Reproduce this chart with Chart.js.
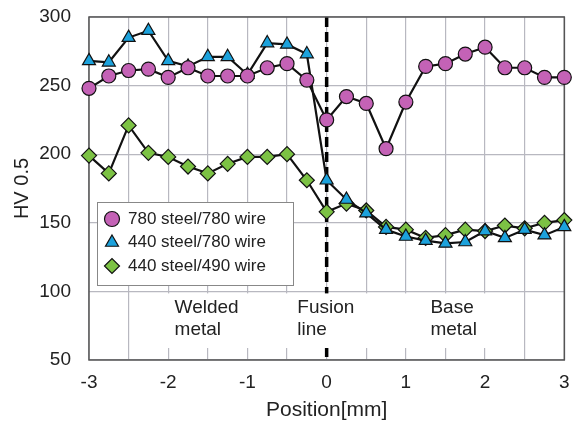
<!DOCTYPE html>
<html>
<head>
<meta charset="utf-8">
<script src="https://cdn.jsdelivr.net/npm/chart.js@4.4.1/dist/chart.umd.min.js"></script>
<style>
  html, body { margin: 0; padding: 0; background: #fff; }
  #wrap { width: 573px; height: 427px; }
</style>
</head>
<body>
<div id="wrap"><canvas id="chart"></canvas></div>
<script>
// Hardness profile across the weld (HV 0.5), one reading every 0.25 mm
const positions = [-3, -2.75, -2.5, -2.25, -2, -1.75, -1.5, -1.25, -1, -0.75, -0.5, -0.25, 0,
  0.25, 0.5, 0.75, 1, 1.25, 1.5, 1.75, 2, 2.25, 2.5, 2.75, 3];
const hv780steel780wire = [248, 257, 261, 262, 256, 263, 257, 257, 257, 263, 266, 254, 225,
  242, 237, 204, 238, 264, 266, 273, 278, 263, 263, 256, 256];
const hv440steel780wire = [268, 267, 285, 290, 268, 264, 271, 271, 258, 281, 280, 273, 181,
  167, 157, 145, 140, 137, 135, 136, 144, 139, 145, 141, 147];
const hv440steel490wire = [199, 186, 221, 201, 198, 191, 186, 193, 198, 198, 200, 181, 158,
  164, 159, 147, 145, 139, 141, 145, 144, 148, 146, 150, 152];

const seriesLabels = ['780 steel/780 wire', '440 steel/780 wire', '440 steel/490 wire'];
const xTickLabels = [-3, -2, -1, 0, 1, 2, 3];
const yTickLabels = [50, 100, 150, 200, 250, 300];
const regionLabels = [['Welded', 'metal'], ['Fusion', 'line'], ['Base', 'metal']];

const FONT = '"Liberation Sans", Arial, sans-serif';
const styles = [
  { point: 'circle', color: '#c462b6', radius: 7 },
  { point: 'triangle', color: '#1ca2dc', radius: 7.5 },
  { point: 'rectRot', color: '#7cc244', radius: 7.5 }
];

function drawMarker(ctx, kind, x, y, r, fill) {
  ctx.beginPath();
  if (kind === 'circle') {
    ctx.arc(x, y, r, 0, Math.PI * 2);
  } else if (kind === 'triangle') {
    ctx.moveTo(x, y - r);
    ctx.lineTo(x + r * 0.866, y + r / 2);
    ctx.lineTo(x - r * 0.866, y + r / 2);
    ctx.closePath();
  } else {
    ctx.moveTo(x - r, y);
    ctx.lineTo(x, y - r);
    ctx.lineTo(x + r, y);
    ctx.lineTo(x, y + r);
    ctx.closePath();
  }
  ctx.fillStyle = fill;
  ctx.fill();
  ctx.lineWidth = 1.2;
  ctx.strokeStyle = '#111';
  ctx.stroke();
}

// fusion line, text box, frame and legend
const overlay = {
  id: 'overlay',
  beforeDatasetsDraw(chart) {
    const { ctx, chartArea: a, scales: { x, y } } = chart;
    ctx.save();
    const x0 = x.getPixelForValue(0);
    ctx.strokeStyle = '#000';
    ctx.lineWidth = 3.5;
    ctx.setLineDash([10, 5]);
    ctx.beginPath();
    ctx.moveTo(x0, a.top);
    ctx.lineTo(x0, a.bottom);
    ctx.stroke();
    ctx.setLineDash([]);

    // white box behind the region names
    const bx0 = x.getPixelForValue(-2.5) + 2;
    const bx1 = x.getPixelForValue(2.5) - 2;
    const by0 = y.getPixelForValue(100) + 2;
    const by1 = a.bottom - 12;
    ctx.fillStyle = '#fff';
    ctx.fillRect(bx0, by0, bx1 - bx0, by1 - by0);

    ctx.fillStyle = '#222';
    ctx.font = '19px ' + FONT;
    ctx.textAlign = 'left';
    ctx.textBaseline = 'middle';
    const textLeft = [-1.92, -0.37, 1.31];
    regionLabels.forEach((lines, i) => {
      lines.forEach((t, j) => ctx.fillText(t, x.getPixelForValue(textLeft[i]), 308 + j * 22));
    });

    ctx.strokeStyle = '#555';
    ctx.lineWidth = 1.5;
    ctx.strokeRect(a.left, a.top, a.right - a.left, a.bottom - a.top);
    ctx.restore();
  },
  afterDatasetsDraw(chart) {
    const { ctx } = chart;
    ctx.save();
    ctx.fillStyle = '#fff';
    ctx.fillRect(97, 202, 196, 83);
    ctx.strokeStyle = '#888';
    ctx.lineWidth = 1;
    ctx.strokeRect(97.5, 202.5, 196, 83);
    ctx.font = '17px ' + FONT;
    ctx.textAlign = 'left';
    ctx.textBaseline = 'middle';
    seriesLabels.forEach((label, i) => {
      const cy = 219 + i * 23.5;
      drawMarker(ctx, styles[i].point, 112, cy, 7.5, styles[i].color);
      ctx.fillStyle = '#222';
      ctx.fillText(label, 128, cy);
    });
    ctx.restore();
  }
};

const series = [hv780steel780wire, hv440steel780wire, hv440steel490wire];

new Chart(document.getElementById('chart'), {
  type: 'line',
  data: {
    datasets: series.map((vals, i) => ({
      label: seriesLabels[i],
      data: positions.map((p, k) => ({ x: p, y: vals[k] })),
      borderColor: '#111',
      borderWidth: 2.2,
      pointStyle: styles[i].point,
      pointRadius: styles[i].radius,
      pointBackgroundColor: styles[i].color,
      pointBorderColor: '#111',
      pointBorderWidth: 1.2,
      tension: 0,
      clip: false
    }))
  },
  options: {
    responsive: true,
    maintainAspectRatio: false,
    animation: false,
    layout: { padding: { top: 17, right: 5, left: 0, bottom: 0 } },
    plugins: {
      legend: { display: false },
      tooltip: { enabled: false }
    },
    scales: {
      x: {
        type: 'linear',
        min: -3,
        max: 3,
        afterFit: (s) => { s.height = 67; s.paddingLeft = 0; s.paddingRight = 0; },
        grid: { color: '#b8b8c0', lineWidth: 1.2, drawTicks: false },
        border: { display: false },
        ticks: {
          stepSize: 0.5,
          autoSkip: false,
          maxRotation: 0,
          padding: 11,
          color: '#222',
          font: { family: FONT, size: 19 },
          callback: (v) => xTickLabels.includes(v) ? String(v) : ''
        },
        title: {
          display: true,
          text: 'Position[mm]',
          color: '#222',
          font: { family: FONT, size: 21 },
          padding: { top: 0, bottom: 4 }
        }
      },
      y: {
        min: 50,
        max: 300,
        afterFit: (s) => { s.width = 89; s.paddingTop = 0; s.paddingBottom = 0; },
        grid: { color: '#b8b8c0', lineWidth: 1.2, drawTicks: false },
        border: { display: false },
        ticks: {
          stepSize: 50,
          padding: 18,
          color: '#222',
          font: { family: FONT, size: 19 },
          callback: (v) => yTickLabels.includes(v) ? String(v) : ''
        },
        title: {
          display: true,
          text: 'HV 0.5',
          color: '#222',
          font: { family: FONT, size: 20 },
          padding: { top: 10, bottom: 0 }
        }
      }
    }
  },
  plugins: [overlay]
});
</script>
</body>
</html>
